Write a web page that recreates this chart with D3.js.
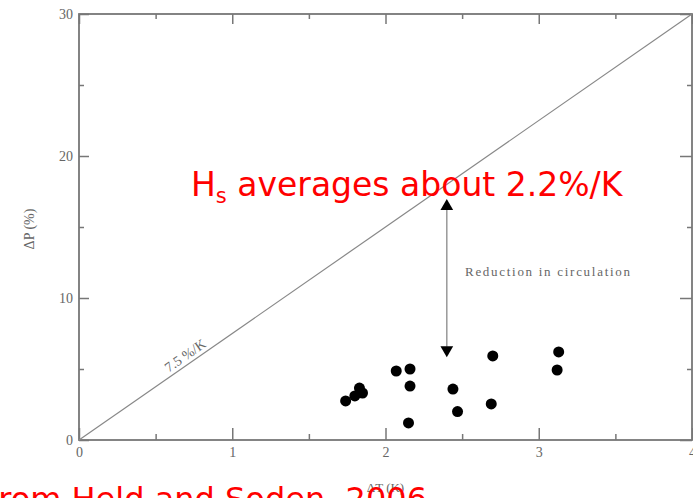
<!DOCTYPE html>
<html>
<head>
<meta charset="utf-8">
<script src="https://cdn.jsdelivr.net/npm/d3@7"></script>
<style>
body { margin: 0; background: #fff; }
svg { display: block; }
.axis path, .axis line { stroke: #777; stroke-width: 1.5; }
.axis text { font-family: "Liberation Serif", serif; font-size: 14px; fill: #666; }
</style>
</head>
<body>
<svg id="chart" width="693" height="498"></svg>
<script>
// model dT (K) and dP (%)
var dT = [1.74, 1.80, 1.83, 1.85, 2.07, 2.16, 2.16, 2.15, 2.44, 2.47, 2.70, 2.69, 3.13, 3.12];
var dP = [2.75, 3.10, 3.66, 3.31, 4.86, 5.00, 3.80, 1.20, 3.59, 2.00, 5.92, 2.54, 6.20, 4.93];

var xMajor = [0, 1, 2, 3, 4];
var xMinor = [0.5, 1.5, 2.5, 3.5];
var yMajor = [0, 10, 20, 30];
var yMinor = [5, 15, 25];

var ccRate = 7.5;        // %/K reference line
var arrowT = 2.4;        // where the "reduction" arrow sits
var arrowTop = 16.8, arrowBottom = 6.0;

var svg = d3.select("#chart");
var pLeft = 79, pRight = 692, pTop = 14, pBottom = 440;

var x = d3.scaleLinear().domain([0, 4]).range([pLeft, pRight]);
var y = d3.scaleLinear().domain([0, 30]).range([pBottom, pTop]);

//frame
svg.append("rect")
	.attr("x", pLeft).attr("y", pTop)
	.attr("width", pRight - pLeft).attr("height", pBottom - pTop)
	.style("fill", "none").style("stroke", "#777").style("stroke-width", 1.8);

//major and minor ticks, all pointing into the box
function addAxis(axis, tx, ty, labels){
	var g = svg.append("g").attr("class", "axis")
		.attr("transform", "translate(" + tx + "," + ty + ")")
		.call(axis);
	g.select(".domain").remove();
	if(!labels) g.selectAll("text").remove();
	return g;
}
addAxis(d3.axisBottom(x).tickValues(xMajor).tickSize(-12).tickPadding(7).tickFormat(d3.format("d")), 0, pBottom, true);
addAxis(d3.axisBottom(x).tickValues(xMinor).tickSize(-6), 0, pBottom, false);
addAxis(d3.axisTop(x).tickValues(xMajor).tickSize(-10), 0, pTop, false);
addAxis(d3.axisTop(x).tickValues(xMinor).tickSize(-5), 0, pTop, false);
addAxis(d3.axisLeft(y).tickValues(yMajor).tickSize(-10).tickPadding(6).tickFormat(d3.format("d")), pLeft, 0, true);
addAxis(d3.axisLeft(y).tickValues(yMinor).tickSize(-5), pLeft, 0, false);
addAxis(d3.axisRight(y).tickValues(yMajor).tickSize(-12), pRight, 0, false);
addAxis(d3.axisRight(y).tickValues(yMinor).tickSize(-5), pRight, 0, false);

//axis titles
svg.append("text")
	.attr("transform", "translate(34,229) rotate(-90)")
	.attr("text-anchor", "middle")
	.style("font-family", "Liberation Serif, serif").style("font-size", "14px").style("fill", "#666")
	.text("ΔP (%)");
svg.append("text")
	.attr("x", x(2)).attr("y", 492)
	.attr("text-anchor", "middle")
	.style("font-family", "Liberation Serif, serif").style("font-size", "13px").style("fill", "#666")
	.text("ΔT (K)");

//7.5 %/K line
svg.append("line")
	.attr("x1", x(0)).attr("y1", y(0))
	.attr("x2", x(4)).attr("y2", y(4 * ccRate))
	.style("stroke", "#888").style("stroke-width", 1.2);

var ang = Math.atan2(y(0) - y(ccRate), x(1) - x(0)) * 180 / Math.PI;
svg.append("text")
	.attr("transform", "translate(" + x(0.71) + "," + (y(0.71 * ccRate) - 5) + ") rotate(" + (-ang) + ")")
	.attr("text-anchor", "middle")
	.style("font-family", "Liberation Serif, serif").style("font-size", "14px").style("fill", "#666")
	.text("7.5 %/K");

//arrow
svg.append("line")
	.attr("x1", x(arrowT)).attr("y1", y(arrowTop) + 8)
	.attr("x2", x(arrowT)).attr("y2", y(arrowBottom) - 8)
	.style("stroke", "#999").style("stroke-width", 1.5);
var tri = d3.symbol().type(d3.symbolTriangle).size(70);
svg.append("path").attr("d", tri)
	.attr("transform", "translate(" + x(arrowT) + "," + (y(arrowTop) + 5) + ")")
	.style("fill", "#000");
svg.append("path").attr("d", tri)
	.attr("transform", "translate(" + x(arrowT) + "," + (y(arrowBottom) - 5) + ") rotate(180)")
	.style("fill", "#000");

svg.append("text")
	.attr("x", 465).attr("y", 276)
	.attr("textLength", 165).attr("lengthAdjust", "spacing")
	.style("font-family", "Liberation Serif, serif").style("font-size", "13px").style("fill", "#666")
	.text("Reduction in circulation");

//model points
svg.selectAll("circle.pt")
	.data(d3.zip(dT, dP))
	.enter().append("circle")
	.attr("class", "pt")
	.attr("cx", function(d){ return x(d[0]); })
	.attr("cy", function(d){ return y(d[1]); })
	.attr("r", 5.5)
	.style("fill", "#000");

//red annotations
var hs = svg.append("text")
	.attr("x", 191).attr("y", 196)
	.style("font-family", "DejaVu Sans, Verdana, sans-serif").style("font-size", "33px").style("fill", "#f00");
hs.append("tspan").text("H");
hs.append("tspan").attr("dy", 7).style("font-size", "21px").text("s");
hs.append("tspan").attr("dy", -7).text(" averages about 2.2%/K");

svg.append("text")
	.attr("x", 427).attr("y", 510)
	.attr("text-anchor", "end")
	.style("font-family", "DejaVu Sans, Verdana, sans-serif").style("font-size", "32px").style("fill", "#f00")
	.text("From Held and Soden, 2006");
</script>
</body>
</html>
